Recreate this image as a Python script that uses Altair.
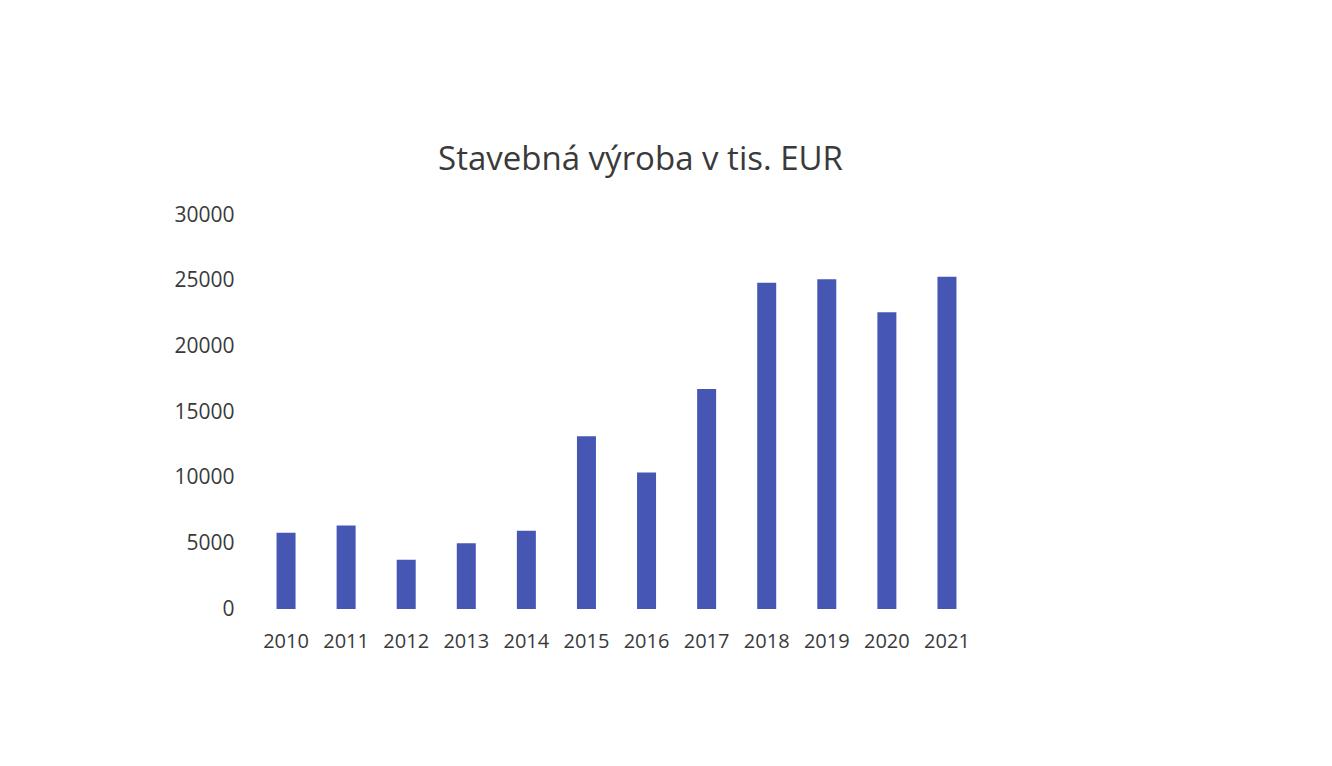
import altair as alt
import pandas as pd

years = ["2010", "2011", "2012", "2013", "2014", "2015", "2016", "2017", "2018", "2019", "2020", "2021"]
values = [5800, 6350, 3750, 5000, 5950, 13150, 10400, 16750, 24850, 25100, 22600, 25300]
y_ticks = [0, 5000, 10000, 15000, 20000, 25000, 30000]
title_text = "Stavebná výroba v tis. EUR"

df = pd.DataFrame({"rok": years, "hodnota": values})

FONT = "Open Sans"
TXT = "#3a3a3a"

chart = alt.Chart(df).mark_bar(size=19, color="#4657b3").encode(
    x=alt.X("rok:N", sort=years, title=None,
            scale=alt.Scale(paddingInner=0, paddingOuter=0),
            axis=alt.Axis(labelAngle=0, ticks=False, domain=False, grid=False,
                          labelFont=FONT, labelFontSize=20, labelColor=TXT,
                          labelPadding=22)),
    y=alt.Y("hodnota:Q", title=None,
            scale=alt.Scale(domain=[0, 30000], nice=False),
            axis=alt.Axis(values=y_ticks, format="d", ticks=False, domain=False, grid=False,
                          labelFont=FONT, labelFontSize=21, labelColor=TXT,
                          labelPadding=22)),
).properties(
    width=721,
    height=394,
    title=alt.TitleParams(title_text, font=FONT, fontSize=33, fontWeight="normal",
                          color=TXT, anchor="middle", frame="group", dx=24, offset=27),
    autosize=alt.AutoSizeParams(type="none"),
    padding={"left": 248, "top": 207, "right": 340, "bottom": 140},
    background="white",
).configure_view(stroke=None)

chart.save("out.html", embed_options={"renderer": "svg", "actions": False})
